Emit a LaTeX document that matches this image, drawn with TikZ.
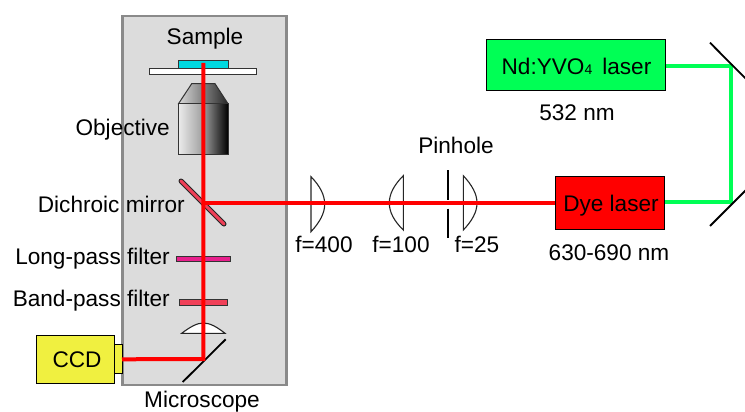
\documentclass[tikz,border=0pt]{standalone}
\usepackage{fontspec}
\setmainfont{Liberation Sans}
\definecolor{boxgray}{HTML}{DCDCDC}
\definecolor{boxedge}{HTML}{8A8A8A}
\definecolor{cyanS}{HTML}{00D8E0}
\definecolor{longp}{HTML}{E8208C}
\definecolor{bandp}{HTML}{F04058}
\definecolor{ccdy}{HTML}{F0F040}
\definecolor{ndg}{HTML}{00FF55}
\definecolor{beamg}{HTML}{00FF55}
\tikzset{
  lbl/.style={font=\fontsize{22.6}{26}\selectfont, inner sep=0pt, text=black},
  part/.style={draw=black!80, line width=1pt},
  redbeam/.style={draw=red, line width=4pt},
  greenbeam/.style={draw=beamg, line width=3.8pt},
  mirror/.style={draw=black, line width=1.8pt},
  lens/.style={draw=black!85, line width=1.1pt, fill=white},
  devbox/.style={draw=black, line width=1pt, inner sep=0pt, minimum width=0pt},
}
\begin{document}
\begin{tikzpicture}[x=1pt,y=-1pt]
\useasboundingbox (0,0) rectangle (745,412);
% microscope housing
\draw[draw=boxedge, line width=2.6pt, fill=boxgray] (122.5,16) rectangle (286.5,385);
% sample
\draw[part, fill=white] (149.5,68.5) rectangle (256.5,75);
\draw[part, fill=cyanS] (178,60.7) rectangle (228,68.5);
% objective
\draw[part, left color=black!15, right color=black!85, middle color=black!50] (191.7,83.7) -- (215,83.7) -- (228,103.7) -- (178.5,103.7) -- cycle;
\shade[left color=white!92!black, right color=black, middle color=black!38] (178.5,103.7) rectangle (228,154);
\draw[part] (178.5,103.7) rectangle (228,154);
% mirror and filters
\draw[draw=black!85, line width=5pt, line cap=round] (181,181) -- (224,224);
\draw[draw=bandp, line width=3pt, line cap=round] (181,181) -- (224,224);
\draw[part, fill=longp] (176,256) rectangle (230,261.3);
\draw[part, fill=bandp] (179,299.3) rectangle (227.5,305);
\draw[lens] (181.7,333.3) .. controls (190,327) and (197,323) .. (203.4,323) .. controls (210,323) and (217,327) .. (225,333.3) -- cycle;
\draw[mirror] (182.7,382) -- (225.7,339.3);
% lenses
\draw[lens] (311,176.7) .. controls (320,186) and (324.7,195) .. (324.7,204.2) .. controls (324.7,213) and (320,222) .. (311,231.7) -- cycle;
\draw[lens] (403.3,175.7) .. controls (394,185) and (389.3,194) .. (389.3,203) .. controls (389.3,212) and (394,221) .. (403.3,230) -- cycle;
\draw[lens] (463.3,175.7) .. controls (472,185) and (477,194) .. (477,203) .. controls (477,212) and (472,221) .. (463.3,230) -- cycle;
% pinhole
\draw[draw=black, line width=1.8pt] (448,170) -- (448,200) (448,208.7) -- (448,237.7);
% devices
\node[devbox, fill=ccdy, minimum width=8pt, minimum height=28.7pt] (ccdport) at (118.3,359.3) {};
\node[devbox, fill=ccdy, minimum width=77.6pt, minimum height=48pt] (ccd) at (75.5,359.3) {};
\node[devbox, fill=ndg, minimum width=179pt, minimum height=51pt] (nd) at (575.8,64.8) {};
\node[devbox, fill=red, minimum width=109pt, minimum height=52.6pt] (dye) at (609.8,203) {};
% beam junctions
\coordinate (sampleSpot) at (203.3,63);
\coordinate (dichroic) at (203.3,203);
\coordinate (foldCCD) at (203.3,359);
\coordinate (mirrorTop) at (730.7,65.7);
\coordinate (mirrorBot) at (730.7,201.7);
\draw[redbeam, line join=miter] (sampleSpot) -- (foldCCD) -- (ccdport.center -| 122,359);
\draw[redbeam] (dichroic) -- (dye.west);
\draw[greenbeam, line join=miter] (nd.east |- mirrorTop) -- (mirrorTop) -- (mirrorBot) -- (dye.east |- mirrorBot);
% folding mirrors
\draw[mirror] (710,42.7) -- (748,81);
\draw[mirror] (710,226) -- (748,188);
% labels
\node[lbl] (tSample) at (205,39) {Sample};
\node[lbl, anchor=east] (tObj) at (170,129.5) {Objective};
\node[lbl, anchor=east] (tDic) at (185,204) {Dichroic mirror};
\node[lbl, anchor=east] (tLong) at (170,258.5) {Long-pass filter};
\node[lbl, anchor=east] (tBand) at (170,300.5) {Band-pass filter};
\node[lbl] (tCCD) at (77,359.5) {CCD};
\node[lbl] (tMic) at (202,401.5) {Microscope};
\node[lbl] (tf4) at (324,244) {f=400};
\node[lbl] (tf1) at (401,244) {f=100};
\node[lbl] (tf2) at (477,244) {f=25};
\node[lbl] (tPin) at (456,145) {Pinhole};
\node[lbl] (tNd) at (576.5,66) {Nd:YVO{\fontsize{14}{14}\selectfont 4}\hspace{10pt}laser};
\node[lbl] (t532) at (577,113) {532 nm};
\node[lbl] (tDye) at (611,206) {Dye laser};
\node[lbl] (t630) at (609,253) {630-690 nm};
\end{tikzpicture}
\end{document}
